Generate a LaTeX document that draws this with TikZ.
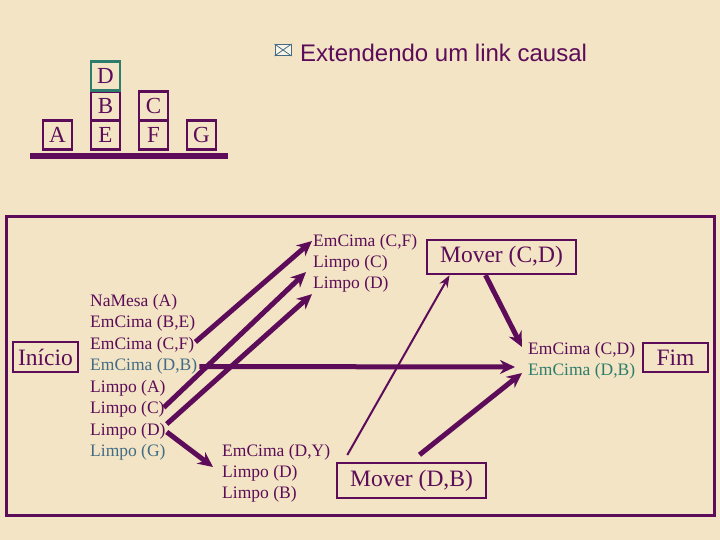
\documentclass[tikz,border=0pt]{standalone}
\usepackage{fontspec}
\setmainfont{Liberation Serif}
\newfontfamily\titlefont{Liberation Sans}
\usetikzlibrary{arrows.meta}
\definecolor{parch}{RGB}{242,228,196}
\definecolor{plum}{RGB}{92,12,88}
\definecolor{tealc}{RGB}{46,125,108}
\definecolor{slate}{RGB}{66,108,134}
\tikzset{
  blockbox/.style={draw=plum, line width=2.4pt, minimum width=29pt, minimum height=29pt, inner sep=0pt, text=plum, font=\fontsize{23}{23}\selectfont},
  lbl/.style={anchor=west, inner sep=0pt, text=plum, font=\fontsize{17.5}{18}\selectfont},
  bigbox/.style={draw=plum, line width=2.4pt, inner sep=0pt, text=plum, font=\fontsize{23.5}{24}\selectfont},
  thickarrow/.style={draw=plum, line width=5pt, -{Stealth[length=15pt,width=14pt]}},
  thinarrow/.style={draw=plum, line width=2pt, -{Stealth[length=12pt,width=9pt]}},
}
\begin{document}
\begin{tikzpicture}[x=1pt,y=-1pt]
\useasboundingbox (0,0) rectangle (720,540);
\fill[parch] (0,0) rectangle (720,540);

% title
\node[draw=slate, line width=1pt, fill=white!60!parch, minimum width=16pt, minimum height=11pt, inner sep=0pt] (env) at (283,50) {};
\draw[slate, line width=0.8pt] (env.north west) -- (env.south east) (env.north east) -- (env.south west);
\node[anchor=west, inner sep=0pt, text=plum, font=\titlefont\fontsize{24}{25}\selectfont] (title) at (300,53) {Extendendo um link causal};

% blocks world
\node[blockbox] (bA) at (57.5,135) {A};
\node[blockbox] (bE) at (105.5,135) {E};
\node[blockbox] (bB) at (105.5,106) {B};
\node[blockbox, draw=tealc] (bD) at (105.5,76) {D};
\node[blockbox] (bF) at (153.5,135) {F};
\node[blockbox] (bC) at (153.5,106) {C};
\node[blockbox] (bG) at (201.5,135) {G};
\fill[plum] (30,153) rectangle (228,159);

% frame
\draw[plum, line width=3pt] (6,217) rectangle (714,515);

% start / end boxes
\node[bigbox, minimum width=65pt, minimum height=30pt] (ini) at (45.5,357) {Início};
\node[bigbox, minimum width=65pt, minimum height=29pt] (fim) at (675.5,357.5) {Fim};
\node[bigbox, minimum width=149pt, minimum height=34pt] (mcd) at (501.5,257) {Mover (C,D)};
\node[bigbox, minimum width=149pt, minimum height=35pt] (mdb) at (411.5,480.5) {Mover (D,B)};

% start effects
\node[lbl] (s1) at (90,302) {NaMesa (A)};
\node[lbl] (s2) at (90,323.5) {EmCima (B,E)};
\node[lbl] (s3) at (90,345) {EmCima (C,F)};
\node[lbl, text=slate] (s4) at (90,366.5) {EmCima (D,B)};
\node[lbl] (s5) at (90,388) {Limpo (A)};
\node[lbl] (s6) at (90,409.5) {Limpo (C)};
\node[lbl] (s7) at (90,431) {Limpo (D)};
\node[lbl, text=slate] (s8) at (90,452.5) {Limpo (G)};

% preconditions of Mover (C,D)
\node[lbl] (t1) at (313,242) {EmCima (C,F)};
\node[lbl] (t2) at (313,263) {Limpo (C)};
\node[lbl] (t3) at (313,284) {Limpo (D)};

% preconditions of Mover (D,B)
\node[lbl] (m1) at (222,452) {EmCima (D,Y)};
\node[lbl] (m2) at (222,473) {Limpo (D)};
\node[lbl] (m3) at (222,494) {Limpo (B)};

% goal
\node[lbl] (f1) at (528,350) {EmCima (C,D)};
\node[lbl, text=tealc] (f2) at (528,371) {EmCima (D,B)};

% links
\draw[thickarrow] ([shift={(1,-3)}]s3.east) -- ([shift={(-1,-1)}]t1.west);
\draw[thickarrow] ([shift={(-1,-2)}]s6.east) -- ([shift={(-7,1)}]t2.south west);
\draw[thickarrow] ([shift={(1,-7)}]s7.east) -- ([shift={(-1,2)}]t3.south west);
\draw[thickarrow] ([shift={(1,1)}]s7.east) -- ([shift={(-9,-6)}]m2.west);
\draw[thickarrow] ([shift={(2,0)}]s4.east) -- ([shift={(-13,-4)}]f2.west);
\draw[thinarrow] ([shift={(17,3)}]m1.east) -- ([shift={(-52,0)}]mcd.south);
\draw[thickarrow] ([shift={(-16,0)}]mcd.south) -- ([shift={(-6,-3)}]f1.west);
\draw[thickarrow] ([shift={(8,-7)}]mdb.north) -- ([shift={(-6,2)}]f2.west);
\end{tikzpicture}
\end{document}
